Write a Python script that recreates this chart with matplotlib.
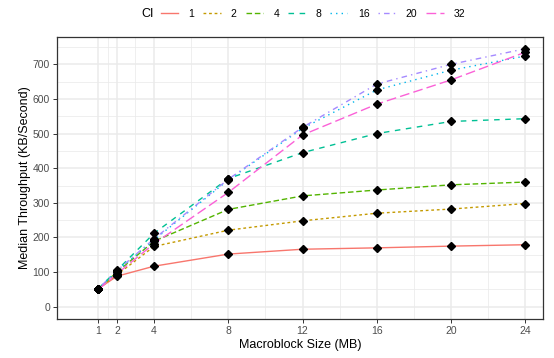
import matplotlib.pyplot as plt
import numpy as np

plt.rcParams['font.family'] = ['Liberation Sans', 'DejaVu Sans']

# macroblock sizes (MB)
sizes = [1, 2, 4, 8, 12, 16, 20, 24]
ci_levels = ['1', '2', '4', '8', '16', '20', '32']

# median throughput (KB/s) per CI level
tp_1 = [52, 88, 117, 152, 166, 170, 175, 179]
tp_2 = [52, 92, 174, 221, 248, 270, 282, 298]
tp_4 = [52, 100, 189, 281, 320, 337, 352, 360]
tp_8 = [52, 105, 212, 370, 445, 500, 535, 543]
tp_16 = [52, 103, 193, 366, 515, 626, 683, 724]
tp_20 = [52, 104, 196, 368, 518, 643, 700, 745]
tp_32 = [50, 95, 182, 330, 496, 585, 655, 735]

series = [tp_1, tp_2, tp_4, tp_8, tp_16, tp_20, tp_32]
colors = ['#F8766D', '#C49A00', '#53B400', '#00C094', '#00B6EB', '#A58AFF', '#FB61D7']
dashes = [None, (2, 2), (4, 2), (4, 4), (1, 3), (1, 3, 4, 3), (7, 3)]

fig = plt.figure(figsize=(5.54, 3.58), dpi=100)
ax = fig.add_axes([0.1029, 0.1089, 0.8773, 0.7877])

handles = []
for vals, c, d, lab in zip(series, colors, dashes, ci_levels):
    ln, = ax.plot(sizes, vals, color=c, lw=1.0, zorder=3, label=lab)
    if d is not None:
        ln.set_dashes(d)
    handles.append(ln)
for vals in series:
    ax.plot(sizes, vals, linestyle='none', marker='D', ms=4.4, color='black', zorder=4)

ax.set_xlim(-1.225, 24.95)
ax.set_ylim(-35.5, 778.8)
ax.set_xticks(sizes)
ax.set_xticks([1.5, 3, 6, 10, 14, 18, 22], minor=True)
ax.set_yticks(np.arange(0, 701, 100))
ax.set_yticks(np.arange(50, 751, 100), minor=True)
ax.grid(True, which='major', color='#EBEBEB', lw=1.1, zorder=0)
ax.grid(True, which='minor', color='#EBEBEB', lw=0.55, zorder=0)
ax.set_axisbelow(True)
for s in ax.spines.values():
    s.set_color('#333333')
    s.set_linewidth(0.9)
ax.tick_params(which='major', length=3, width=0.7, color='#333333', labelsize=7.5,
               labelcolor='#4D4D4D', pad=2)
ax.tick_params(which='minor', length=0)

ax.set_xlabel('Macroblock Size (MB)', fontsize=9, color='black', labelpad=2)
ax.set_ylabel('Median Throughput (KB/Second)', fontsize=9, color='black', labelpad=1)

fig.text(141 / 554, 1 - 14 / 358, 'CI', fontsize=9, va='center', ha='left')
fig.legend(handles=handles, labels=ci_levels, loc='center left',
           bbox_to_anchor=(161 / 554, 1 - 14 / 358), ncol=7, frameon=False,
           fontsize=7.5, handlelength=1.65, handletextpad=1.0, columnspacing=0.85,
           borderaxespad=0, borderpad=0)

fig.savefig('out.png', dpi=100)
